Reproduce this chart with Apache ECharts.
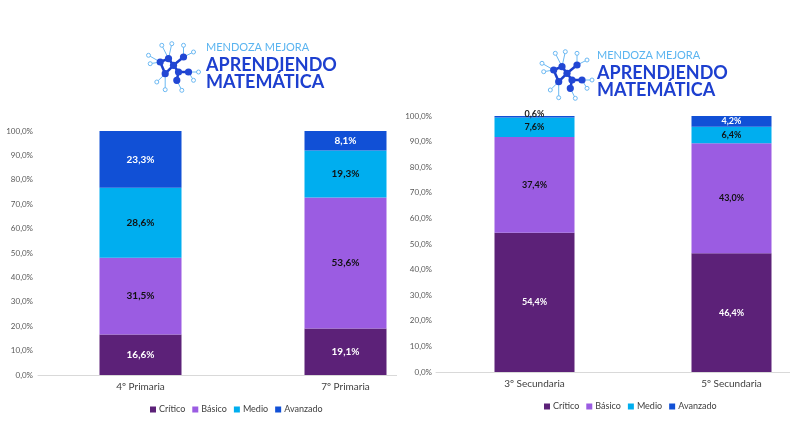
<!DOCTYPE html>
<html>
<head>
<meta charset="utf-8">
<script src="https://cdn.jsdelivr.net/npm/echarts@6/dist/echarts.min.js"></script>
<style>
  html, body { margin: 0; padding: 0; background: #fff; }
  #chart { width: 790px; height: 444px; }
</style>
</head>
<body>
<div id="chart"></div>
<script>
// datos
const levels = ['Crítico', 'Básico', 'Medio', 'Avanzado']
const colors = ['#5C2178', '#9B5CE2', '#00AEEF', '#1150D6']
const labelColors = ['#fff', '#111', '#111', '#fff']

const primariaCats = ['4º Primaria', '7º Primaria']
const primCritico = [16.6, 19.1]
const primBasico = [31.5, 53.6]
const primMedio = [28.6, 19.3]
const primAvanzado = [23.3, 8.1]

const secundariaCats = ['3º Secundaria', '5º Secundaria']
const secCritico = [54.4, 46.4]
const secBasico = [37.4, 43.0]
const secMedio = [7.6, 6.4]
const secAvanzado = [0.6, 4.2]

const pct = v => Number(v).toFixed(1).replace('.', ',') + '%'
const font = 'Lato'

// logo (decoración)
const iconDark = [[-13.3, -5], [-5, -8.3], [0, -1.7], [10, -10], [5, 5], [-8.3, 6.7], [3.3, 13.3], [15, 5]]
const iconLeaf = [[-11.7, -21.7], [-1.7, -23.3], [10, -21.7], [20, -15], [-25, -11.7], [-23.3, -3.3], [25, 5], [20, 13.3], [-16.7, 15], [-8.3, 22.7], [8.3, 23.3]]
const iconEdges = [['d0', 'd1'], ['d1', 'd2'], ['d2', 'd3'], ['d2', 'd4'], ['d4', 'd6'], ['d4', 'd7'], ['d0', 'd5'], ['d5', 'd2'],
  ['d0', 'l4'], ['d0', 'l5'], ['d1', 'l0'], ['d1', 'l1'], ['d3', 'l2'], ['d3', 'l3'], ['d7', 'l6'], ['d7', 'l7'], ['d5', 'l8'], ['d5', 'l9'], ['d6', 'l10']]

function logo (cx, cy, tx) {
  const pt = k => (k[0] === 'd' ? iconDark : iconLeaf)[+k.slice(1)]
  const els = []
  iconEdges.forEach(e => {
    const a = pt(e[0]); const b = pt(e[1])
    els.push({ type: 'line', shape: { x1: cx + a[0], y1: cy + a[1], x2: cx + b[0], y2: cy + b[1] }, style: { stroke: e[1][0] === 'l' ? '#6BB8F2' : '#1B3FCB', lineWidth: e[1][0] === 'l' ? 1 : 2.5 } })
  })
  iconLeaf.forEach(p => els.push({ type: 'circle', shape: { cx: cx + p[0], cy: cy + p[1], r: 2 }, style: { fill: '#fff', stroke: '#6BB8F2', lineWidth: 1 } }))
  iconDark.forEach(p => els.push({ type: 'circle', shape: { cx: cx + p[0], cy: cy + p[1], r: 3.6 }, style: { fill: '#2247D4' } }))
  els.push({ type: 'text', x: tx, y: cy - 20, style: { text: 'MENDOZA MEJORA', fill: '#5AB4F0', font: '11px ' + font, textVerticalAlign: 'middle' } })
  els.push({ type: 'text', x: tx, y: cy - 2, style: { text: 'APRENDIENDO', fill: '#1D3FCF', font: 'bold 18px ' + font, textVerticalAlign: 'middle' } })
  els.push({ type: 'text', x: tx, y: cy + 15, style: { text: 'MATEMÁTICA', fill: '#1D3FCF', font: 'bold 18px ' + font, textVerticalAlign: 'middle' } })
  return els
}

function makeSeries (values, stack, idx, fontSize, zlevel) {
  return values.map((data, i) => ({
    name: levels[i],
    type: 'bar',
    stack: stack,
    xAxisIndex: idx,
    yAxisIndex: idx,
    zlevel: zlevel,
    barWidth: idx === 0 ? 82 : 80,
    itemStyle: { color: colors[i] },
    label: {
      show: true,
      position: 'inside',
      color: labelColors[i],
      fontFamily: font,
      fontWeight: 'bold',
      fontSize: fontSize,
      formatter: p => pct(p.value)
    },
    data: data
  }))
}

const secSeries = makeSeries([secCritico, secBasico, secMedio, secAvanzado], 's', 1, 9, 1)
// 0,6% va por encima de la barra
secSeries[3].data = secAvanzado.map((v, i) => i === 0
  ? { value: v, label: { position: 'top', distance: -3, color: '#222' } }
  : v)

const legendBase = {
  data: levels, itemWidth: 6, itemHeight: 6, itemGap: 7, icon: 'rect',
  textStyle: { fontSize: 9, color: '#404040', fontFamily: font, padding: [0, 0, 0, -2] }
}

const option = {
  animation: false,
  textStyle: { fontFamily: font },
  graphic: [
    ...logo(173.5, 67, 206),
    ...logo(567, 75, 597),
    // tapa el eje del gráfico izquierdo bajo el derecho
    { type: 'rect', z: 100, shape: { x: 397, y: 366, width: 60, height: 16 }, style: { fill: '#fff' } }
  ],
  legend: [
    { ...legendBase, top: 400, left: 145 },
    { ...legendBase, top: 397, left: 539, zlevel: 1 }
  ],
  grid: [
    { left: 38, top: 131, width: 410, height: 244, outerBoundsMode: 'none' },
    { left: 436, top: 116, width: 394, height: 256, outerBoundsMode: 'none' }
  ],
  xAxis: [
    {
      type: 'category', gridIndex: 0, data: primariaCats,
      axisLine: { lineStyle: { color: '#d9d9d9' } },
      axisTick: { show: false },
      axisLabel: { color: '#404040', fontSize: 10, margin: 7, fontFamily: font }
    },
    {
      type: 'category', gridIndex: 1, data: secundariaCats, zlevel: 1,
      axisLine: { lineStyle: { color: '#d9d9d9' } },
      axisTick: { show: false },
      axisLabel: { color: '#404040', fontSize: 10, margin: 7, fontFamily: font }
    }
  ],
  yAxis: [
    {
      type: 'value', gridIndex: 0, min: 0, max: 100, interval: 10,
      splitLine: { show: false },
      axisLabel: { color: '#595959', fontSize: 8, margin: 5, formatter: v => pct(v) }
    },
    {
      type: 'value', gridIndex: 1, min: 0, max: 100, interval: 10, zlevel: 1,
      splitLine: { show: false },
      axisLabel: { color: '#595959', fontSize: 8, margin: 4, formatter: v => pct(v) }
    }
  ],
  series: [
    ...makeSeries([primCritico, primBasico, primMedio, primAvanzado], 'p', 0, 10, 0),
    ...secSeries
  ]
}

const chart = echarts.init(document.getElementById('chart'))
chart.setOption(option)
</script>
</body>
</html>
